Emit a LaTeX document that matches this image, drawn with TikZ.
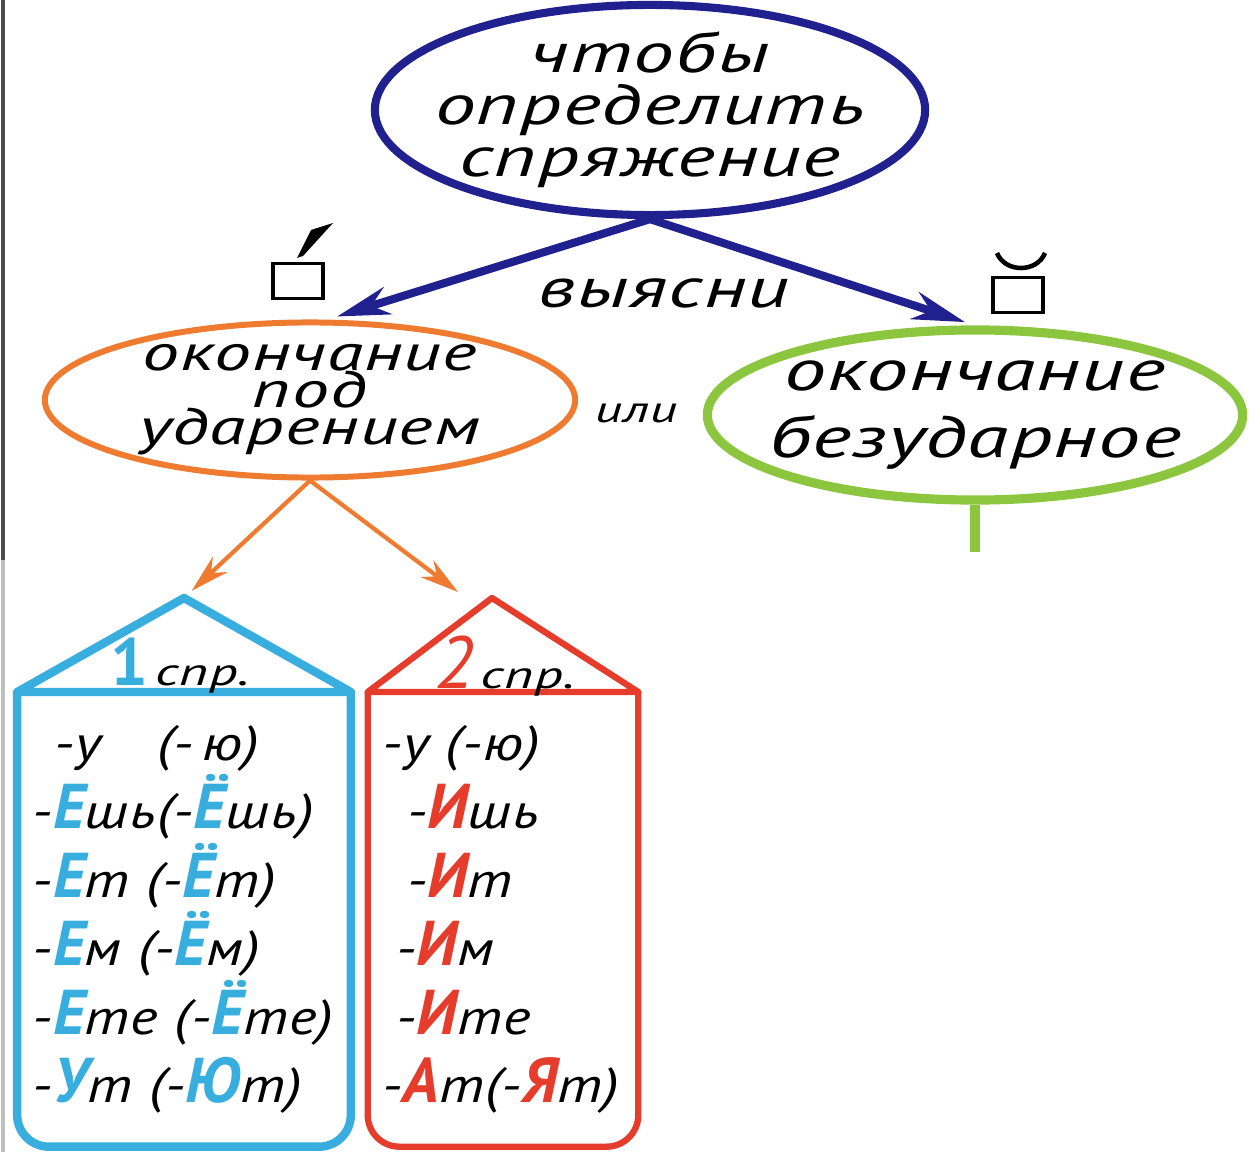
\documentclass[tikz,border=0pt]{standalone}
\usepackage{fontspec}
\setmainfont{PT Sans}
\newfontfamily\handfont{PT Sans}[FakeStretch=1.45, LetterSpace=2]
\newfontfamily\rowfont{PT Sans}[FakeStretch=1.2, LetterSpace=2]
\newfontfamily\capfont{PT Sans}
\usetikzlibrary{arrows.meta,shapes.geometric,calc}

\definecolor{goalblue}{HTML}{20208F}
\definecolor{stressorange}{HTML}{EF7B30}
\definecolor{nostressgreen}{HTML}{8CC63E}
\definecolor{firstblue}{HTML}{38AEDF}
\definecolor{secondred}{HTML}{E53C2C}

\newcommand{\tightlines}{\lineskiplimit -30pt\relax}
\newcommand{\firstend}[1]{{\capfont\bfseries\fontsize{18}{18}\selectfont\color{firstblue}#1}}
\newcommand{\secondend}[1]{{\capfont\bfseries\itshape\fontsize{18}{18}\selectfont\color{secondred}#1}}

\begin{document}
\begin{tikzpicture}[x=0.01cm, y=-0.01cm, >=Stealth,
    bubble/.style={draw, ellipse, inner sep=-5mm, align=center, font=\handfont\itshape},
    endbox/.style={draw, line width=0.9pt, minimum width=0.5cm, minimum height=0.35cm, inner sep=0pt},
    conjbox/.style={anchor=north, inner sep=0pt, align=left,
        font=\rowfont\itshape\fontsize{14}{19.5}\selectfont\tightlines}]
    \useasboundingbox (0,0) rectangle (1249,1152);
    % scan edge
    \draw [black!70, line width=1pt] (3,0) -- (3,560);
    \draw [black!25, line width=1pt] (3,560) -- (3,1152);

    % Question
    \node [bubble, goalblue, line width=2.3pt, minimum width=5.5cm, minimum height=2.1cm,
        text=black, font=\handfont\itshape\fontsize{16}{14.8}\selectfont\tightlines] (goal) at (650,110)
        {чтобы\\определить\\спряжение};
    \node [font=\handfont\itshape\fontsize{16}{16}\selectfont] (find) at (664,293) {выясни};

    % Two kinds of ending
    \node [bubble, stressorange, line width=1.7pt, minimum width=5.3cm, minimum height=1.55cm,
        text=black, font=\handfont\itshape\fontsize{14.5}{10.5}\selectfont\tightlines] (stress) at (310,400)
        {окончание\\под\\ударением};
    \node [font=\handfont\itshape\fontsize{10.5}{10.5}\selectfont] (or) at (636,413) {или};
    \node [bubble, nostressgreen, line width=2.6pt, minimum width=5.35cm, minimum height=1.7cm,
        text=black, font=\handfont\itshape\fontsize{16.5}{19}\selectfont\tightlines] (nostress) at (975,415)
        {окончание\\безударное};
    \coordinate (stem) at (975,552);
    \draw [nostressgreen, line width=2.6pt] (nostress.south) -- (stem);

    % Stressed / unstressed signs
    \node [endbox] (sq1) at (298,281) {};
    \fill (297,258) -- (311,230) -- (333,223) -- (303,256) -- cycle;
    \node [endbox] (sq2) at (1018,295) {};
    \draw [line width=1.3pt] (997,253) .. controls (1005,273) and (1037,273) .. (1045,253);

    \draw [goalblue, line width=2.3pt, -{Stealth[length=15pt,width=8pt]}, shorten >=3pt]
        (goal.south) -- (stress.78);
    \draw [goalblue, line width=2.3pt, -{Stealth[length=15pt,width=8pt]}, shorten >=3pt]
        (goal.south) -- (nostress.north);

    % 1st conjugation
    \node [conjbox, minimum width=3.32cm, minimum height=4.53cm, text width=3.02cm] (first) at (184,692)
        {\mbox{\hspace{6pt}-у\hspace{16pt}(-\,ю)}\\
         \mbox{-\firstend{Е}шь(-\firstend{Ё}шь)}\\
         \mbox{-\firstend{Е}т (-\firstend{Ё}т)}\\
         \mbox{-\firstend{Е}м (-\firstend{Ё}м)}\\
         \mbox{-\firstend{Е}те (-\firstend{Ё}те)}\\
         \mbox{-\firstend{У}т (-\firstend{Ю}т)}};
    \coordinate (roof1) at (184,598);
    \draw [firstblue, line width=2.4pt, rounded corners=9pt]
        (first.north east) -- (first.south east) -- (first.south west) -- (first.north west);
    \draw [firstblue, line width=2.4pt, line join=round]
        (first.north west) -- (roof1) -- (first.north east) -- cycle;
    \node (head1) at (180,666) {{\capfont\bfseries\color{firstblue}\fontsize{19}{19}\selectfont 1}%
        {\handfont\itshape\fontsize{11}{11}\selectfont\,спр.}};

    % 2nd conjugation
    \node [conjbox, minimum width=2.69cm, minimum height=4.53cm, text width=2.41cm] (second) at (503,692)
        {\mbox{-у (-ю)}\\
         \mbox{\hspace{7pt}-\secondend{И}шь}\\
         \mbox{\hspace{7pt}-\secondend{И}т}\\
         \mbox{\hspace{4pt}-\secondend{И}м}\\
         \mbox{\hspace{4pt}-\secondend{И}те}\\
         \mbox{-\secondend{А}т(-\secondend{Я}т)}};
    \coordinate (roof2) at (492,598);
    \draw [secondred, line width=1.8pt, rounded corners=9pt]
        (second.north east) -- (second.south east) -- (second.south west) -- (second.north west);
    \draw [secondred, line width=1.8pt, line join=round]
        (second.north west) -- (roof2) -- (second.north east) -- cycle;
    \node (head2) at (505,666) {{\capfont\itshape\color{secondred}\fontsize{21}{21}\selectfont 2}%
        {\handfont\itshape\fontsize{11}{11}\selectfont\,спр.}};

    % Arrows to the conjugations
    \coordinate (aim2) at (458,592);
    \draw [stressorange, line width=1.2pt, -{Stealth[length=11pt,width=6pt]}, shorten >=3pt]
        (stress.south) -- (roof1);
    \draw [stressorange, line width=1.2pt, -{Stealth[length=11pt,width=6pt]}]
        (stress.south) -- (aim2);
\end{tikzpicture}
\end{document}
